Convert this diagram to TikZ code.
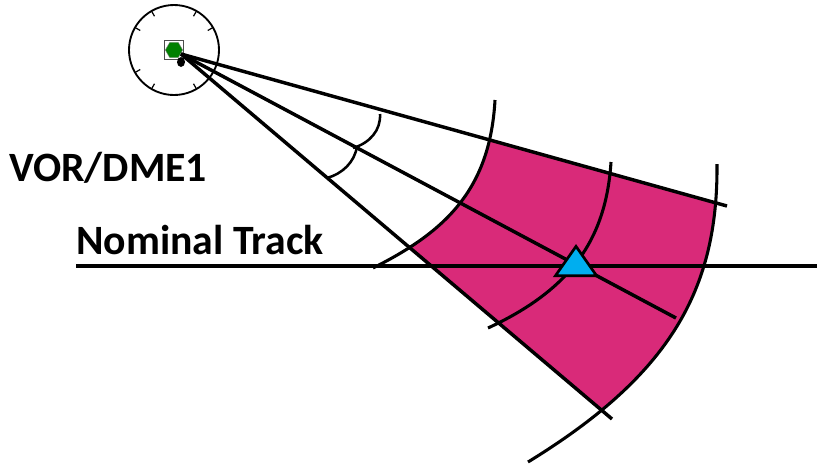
\documentclass[tikz,border=0pt]{standalone}
\usepackage{xcolor}
\usepackage{fontspec}
\setmainfont{Carlito}
\usepackage{tikz}
\usetikzlibrary{shapes.geometric}
\definecolor{areapink}{HTML}{D92A79}
\definecolor{aircraftblue}{HTML}{00AEEF}
\definecolor{vorgreen}{HTML}{008000}

\begin{document}
\begin{tikzpicture}[x=0.75pt,y=-0.75pt,radial/.style={line width=2.6pt},arc line/.style={line width=2.3pt},label text/.style={font=\bfseries\fontsize{31.3}{31.3}\selectfont,inner sep=0pt,anchor=base west}]
    \useasboundingbox (0,0) rectangle (817,465);

    \coordinate (apex) at (181,54);
    \coordinate (upper end) at (727,206);
    \coordinate (middle end) at (676,318);
    \coordinate (lower end) at (612,419);
    \coordinate (track start) at (76,266);
    \coordinate (track end) at (817,266);
    \coordinate (inner top) at (495,100);
    \coordinate (inner low) at (373,268);
    \coordinate (mid top) at (611,162);
    \coordinate (mid low) at (488,328);
    \coordinate (outer top) at (717,164);
    \coordinate (outer low) at (528,462);

    % coverage area
    \begin{scope}
      \clip (apex) -- (900,254) -- (800,578) -- cycle;
      \fill[areapink] (inner top) .. controls (490,190) and (445,232) .. (inner low)
      -- (outer low) .. controls (670,375) and (718,290) .. (outer top) -- cycle;
    \end{scope}

    \draw[line width=3pt] (track start) -- (track end);

    % station
    \draw[line width=1.4pt] (174,50) circle (45);
    \foreach \ang in {30,60,120,150,240,300,330} {
      \draw[line width=0.9pt] (174,50) ++(\ang:-39) -- ++(\ang:-6);
    }
    \node[draw=black!70,fill=white,line width=0.8pt,minimum size=14pt,inner sep=0pt] (station box) at (174,50) {};
    \node[regular polygon,regular polygon sides=6,fill=vorgreen,draw=black!50,line width=0.3pt,minimum size=13pt,inner sep=0pt] (station) at (174,50) {};
    \node[ellipse,fill=black,minimum width=6pt,minimum height=7.5pt,inner sep=0pt] (dme) at (181,62) {};

    \draw[radial] (apex) -- (upper end);
    \draw[radial] (apex) -- (middle end);
    \draw[radial] (apex) -- (lower end);

    % range arcs
    \draw[arc line] (inner top) .. controls (490,190) and (445,232) .. (inner low);
    \draw[arc line] (mid top) .. controls (606,240) and (570,290) .. (mid low);
    \draw[arc line] (outer top) .. controls (718,290) and (670,375) .. (outer low);

    % angle marks
    \draw[line width=1.9pt] (380,114) .. controls (381,130) and (370,143) .. (353,148);
    \draw[line width=1.9pt] (357,146) .. controls (355,162) and (342,174) .. (327,178);

    \node[isosceles triangle,isosceles triangle apex angle=70,shape border rotate=90,draw,fill=aircraftblue,line width=2pt,minimum size=22pt,inner sep=0pt] (aircraft) at (576,265) {};

    \node[label text] (vor) at (9,181) {VOR/DME1};
    \node[label text] (track) at (76,254) {Nominal Track};
  \end{tikzpicture}
\end{document}
